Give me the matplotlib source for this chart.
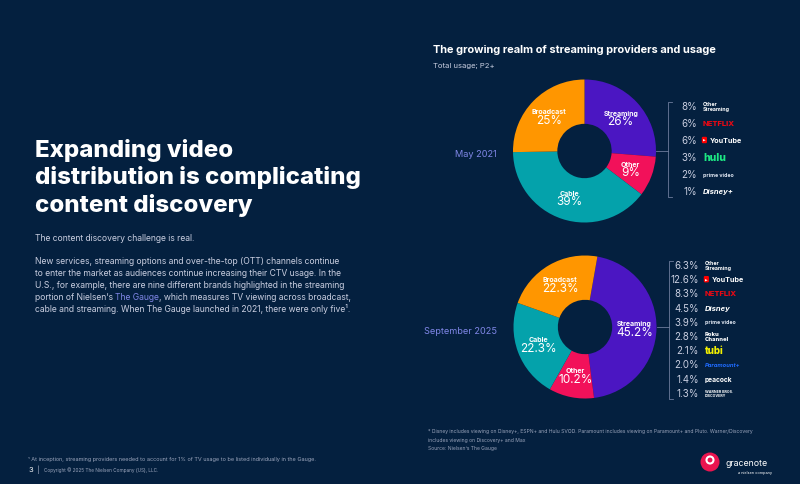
import numpy as np
import matplotlib
matplotlib.use('Agg')
import matplotlib.pyplot as plt
from matplotlib.lines import Line2D
from matplotlib.patches import Ellipse

# данные для кольцевых диаграмм
segments = ['Streaming', 'Other', 'Cable', 'Broadcast']
may_2021 = [26, 9, 39, 25]
sep_2025 = [45.2, 10.2, 22.3, 22.3]

# данные по стриминговым брендам
brands_2021 = ['Other Streaming', 'Netflix', 'YouTube', 'Hulu', 'Prime Video', 'Disney+']
share_2021 = [8, 6, 6, 3, 2, 1]
brands_2025 = ['Other Streaming', 'YouTube', 'Netflix', 'Disney', 'Prime Video',
               'Roku Channel', 'Tubi', 'Paramount', 'Peacock', 'Warner Bros. Discovery']
share_2025 = [6.3, 12.6, 8.3, 4.5, 3.9, 2.8, 2.1, 2.0, 1.4, 1.3]

# оформление
BG = '#04203f'
seg_colors = ['#4b16c2', '#f2115a', '#04a2ab', '#ff9600']
LAV = '#7f86e6'
GREY = '#c9cee0'
plt.rcParams['font.family'] = ['Inter', 'DejaVu Sans']

# как рисовать "логотипы" брендов: текст, цвет, размер, жирность, стиль
brand_style = {
    'Other Streaming': ('Other\nStreaming', 'white', 3.8, 'bold', 'normal'),
    'Netflix': ('NETFLIX', '#e50914', 5.5, 'heavy', 'normal'),
    'YouTube': ('YouTube', 'white', 5.2, 'bold', 'normal'),
    'Hulu': ('hulu', '#1ce783', 7.5, 'heavy', 'normal'),
    'Prime Video': ('prime video', '#dfe6f2', 3.8, 'bold', 'normal'),
    'Disney+': ('Disney+', 'white', 5.5, 'bold', 'italic'),
    'Disney': ('Disney', 'white', 5.5, 'bold', 'italic'),
    'Roku Channel': ('Roku\nChannel', 'white', 4.2, 'heavy', 'normal'),
    'Tubi': ('tubi', '#f3f000', 7, 'heavy', 'normal'),
    'Paramount': ('Paramount+', '#1f6bff', 4.2, 'bold', 'italic'),
    'Peacock': ('peacock', 'white', 4.8, 'bold', 'normal'),
    'Warner Bros. Discovery': ('WARNER BROS.\nDISCOVERY', 'white', 2.6, 'bold', 'normal'),
}

W, H = 800, 485
fig = plt.figure(figsize=(W / 100, H / 100), dpi=100, facecolor=BG)
renderer = fig.canvas.get_renderer()


def fx(x):
    return x / W


def fy(y):
    return 1 - y / H


def ftext(x, y, s, **kw):
    return fig.text(fx(x), fy(y), s, **kw)


def line(xs, ys, **kw):
    fig.add_artist(Line2D([fx(v) for v in xs], [fy(v) for v in ys],
                          transform=fig.transFigure, **kw))


def text_run(x, y, parts, **kw):
    # строка из кусков разного цвета
    for s, c in parts:
        t = ftext(x, y, s, color=c, **kw)
        x += t.get_window_extent(renderer=renderer).width


def donut(cx, cy, r, values, start, fmt):
    ax = fig.add_axes([fx(cx - r), fy(cy + r), 2 * r / W, 2 * r / H])
    wedges, _ = ax.pie(values, colors=seg_colors, startangle=start, counterclock=False,
                       radius=1, wedgeprops=dict(width=0.62, edgecolor='none'))
    ax.set_xlim(-1, 1)
    ax.set_ylim(-1, 1)
    ax.set_aspect('equal')
    ax.axis('off')
    for w, name, v in zip(wedges, segments, values):
        ang = np.deg2rad((w.theta1 + w.theta2) / 2)
        x, y = 0.69 * np.cos(ang), 0.69 * np.sin(ang)
        ax.annotate(name, (x, y), xytext=(0, 3.6), textcoords='offset points',
                    ha='center', va='center', fontsize=5, fontweight='bold', color='white')
        ax.annotate(fmt.format(v), (x, y), xytext=(0, -2.6), textcoords='offset points',
                    ha='center', va='center', fontsize=8.5, color='white')


def brand_list(cx, cy, r, brands, shares, top, step, pct_x, fmt, fs):
    n = len(brands)
    ys = [top + i * step for i in range(n)]
    bx = cx + r + 12
    line([cx + r, bx], [cy, cy], color='#6d7c9c', lw=0.6)
    line([bx + 4, bx, bx, bx + 4], [ys[0] - 4, ys[0] - 4, ys[-1] + 6, ys[-1] + 6],
         color='#6d7c9c', lw=0.6)
    for y, b, s in zip(ys, brands, shares):
        ftext(pct_x, y, fmt.format(s), ha='right', va='center', fontsize=fs, color=GREY)
        label, col, size, weight, style = brand_style[b]
        lx = pct_x + 6
        if b == 'YouTube':
            ftext(lx, y, '▶', family='DejaVu Sans', fontsize=2.5, color='white', va='center',
                  bbox=dict(boxstyle='round,pad=0.35', fc='#ff0000', ec='none'))
            lx += 7
        ftext(lx, y, label, color=col, fontsize=size, fontweight=weight, fontstyle=style,
              va='center', ha='left', linespacing=0.95)


# левая часть: заголовок и текст
heading = ['Expanding video', 'distribution is complicating', 'content discovery']
for i, s in enumerate(heading):
    ftext(35, 157 + i * 27.5, s, fontsize=17.3, fontweight='heavy', color='white', va='baseline')

ftext(35, 241, 'The content discovery challenge is real.', fontsize=6.2, color=GREY, va='baseline')
body = [
    [('New services, streaming options and over-the-top (OTT) channels continue', GREY)],
    [('to enter the market as audiences continue increasing their CTV usage. In the', GREY)],
    [('U.S., for example, there are nine different brands highlighted in the streaming', GREY)],
    [('portion of Nielsen\u2019s ', GREY), ('The Gauge', LAV),
     (', which measures TV viewing across broadcast,', GREY)],
    [('cable and streaming. When The Gauge launched in 2021, there were only five\u00b9.', GREY)],
]
for i, parts in enumerate(body):
    text_run(35, 264 + i * 12, parts, fontsize=6.2, va='baseline')

# правая часть: заголовок графика
ftext(433, 53, 'The growing realm of streaming providers and usage', fontsize=7.9,
      fontweight='bold', color='white', va='baseline')
ftext(433, 68, 'Total usage; P2+', fontsize=5.5, color=GREY, va='baseline')

# кольца
donut(584.5, 152, 71.5, may_2021, 90, '{:.0f}%')
donut(585, 328, 71.5, sep_2025, 80, '{:.1f}%')
ftext(497, 155, 'May 2021', ha='right', va='center', fontsize=6.6, color=LAV)
ftext(497, 331, 'September 2025', ha='right', va='center', fontsize=6.6, color=LAV)

brand_list(584.5, 152, 71.5, brands_2021, share_2021, 107, 17, 697, '{:.0f}%', 7)
brand_list(585, 328, 71.5, brands_2025, share_2025, 266, 14.2, 699, '{:.1f}%', 7)

# сноски
ftext(428, 429, '* Disney includes viewing on Disney+, ESPN+ and Hulu SVOD. Paramount includes '
      'viewing on Paramount+ and Pluto. Warner/Discovery\nincludes viewing on Discovery+ and Max\n'
      'Source: Nielsen\u2019s The Gauge', fontsize=3.6, color='#9aa4bb', va='top', linespacing=1.9)
ftext(28, 461, '\u00b9 At inception, streaming providers needed to account for 1% of TV usage to be '
      'listed individually in the Gauge.', fontsize=4.0, color='#9aa4bb', va='baseline')
ftext(28, 472, '3', fontsize=5.5, color='white', va='baseline')
ftext(37, 472, '|', fontsize=5.5, color='#9aa4bb', va='baseline')
ftext(44, 472, 'Copyright \u00a9 2025 The Nielsen Company (US), LLC.', fontsize=3.4,
      color='#9aa4bb', va='baseline')

# логотип gracenote
fig.add_artist(Ellipse((fx(710), fy(463)), 19 / W, 19 / H, transform=fig.transFigure,
                       fc='#ea1450', ec='none'))
fig.add_artist(Ellipse((fx(710), fy(461)), 7 / W, 7 / H, transform=fig.transFigure,
                       fc='none', ec='white', lw=1.5))
ftext(725, 466, 'gracenote', fontsize=6.3, color='white', va='baseline')
ftext(772, 474, 'a nielsen company', fontsize=2.8, color='white', ha='right', va='baseline')

fig.savefig('out.png', dpi=100, facecolor=BG)
